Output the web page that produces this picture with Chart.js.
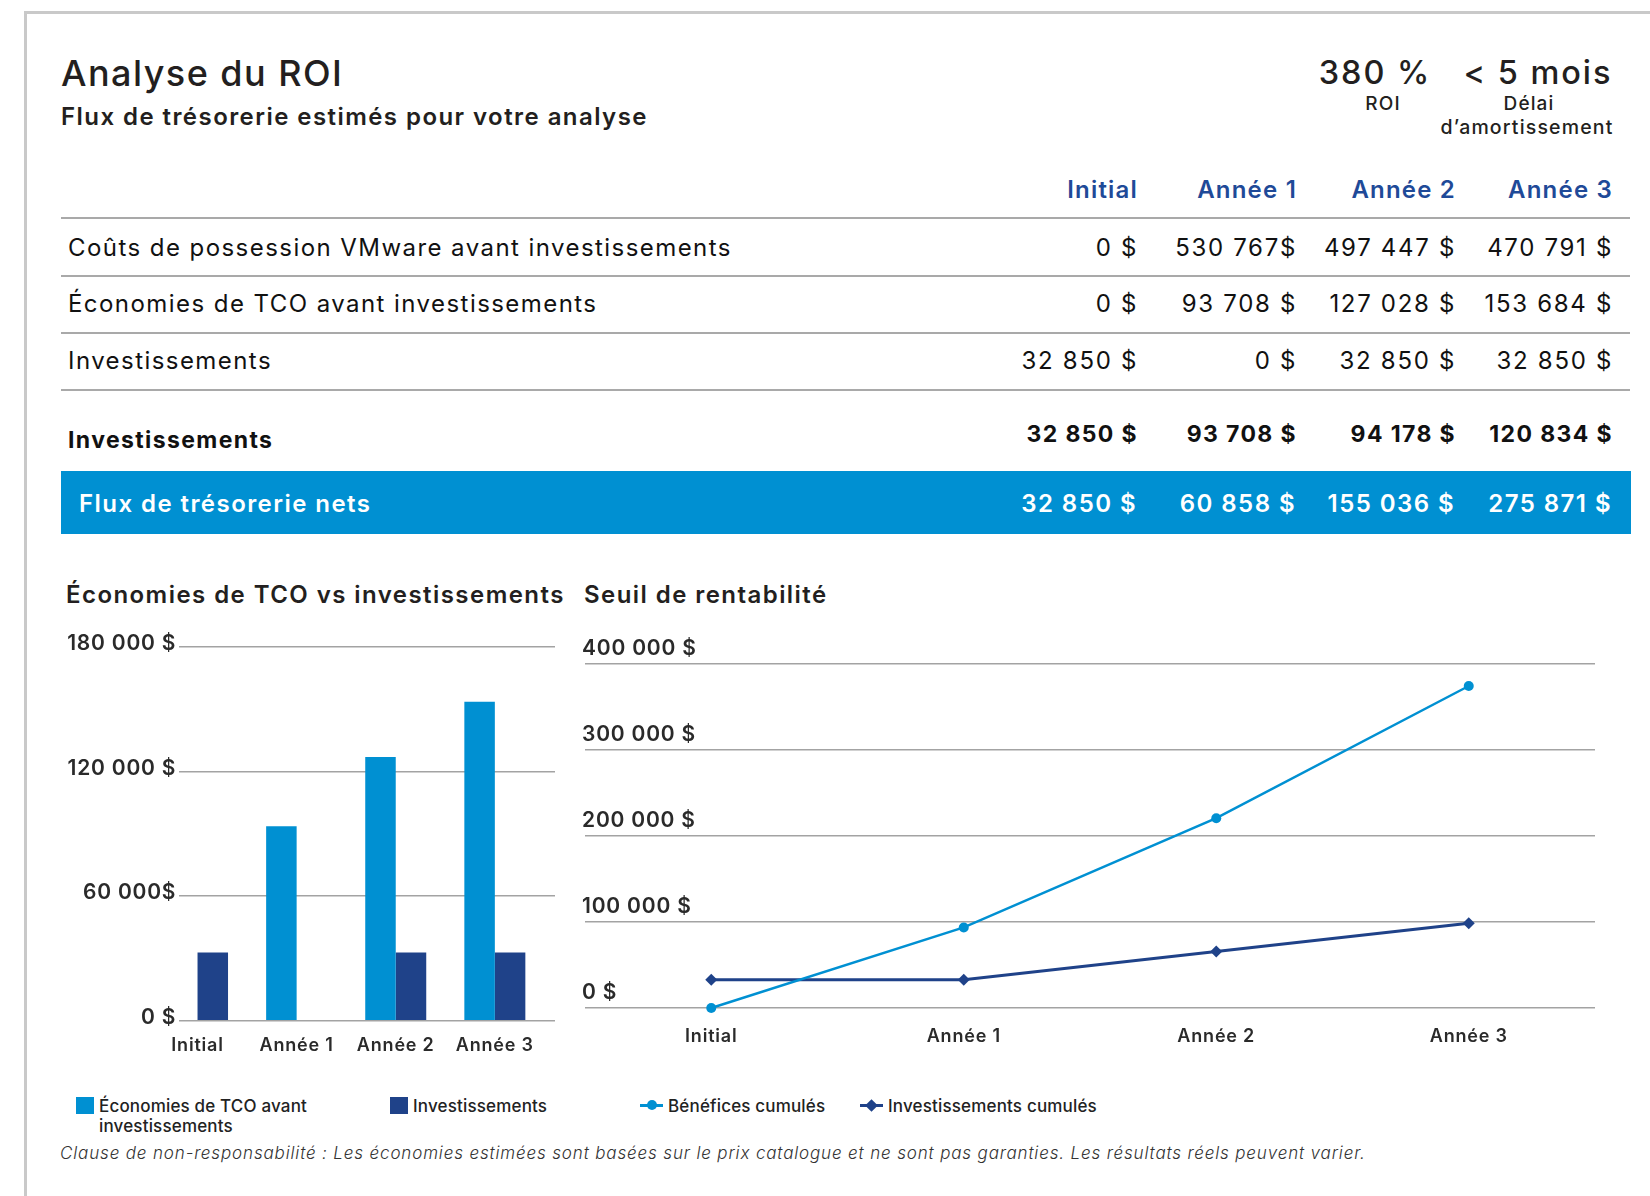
<!DOCTYPE html>
<html lang="fr">
<head>
<meta charset="utf-8">
<title>Analyse du ROI</title>
<script src="https://cdn.jsdelivr.net/npm/chart.js@4.4.1/dist/chart.umd.min.js"></script>
<style>
  html, body { margin: 0; padding: 0; background: #fff; }
  body { width: 1650px; height: 1196px; position: relative; overflow: hidden; font-family: Inter, "Open Sans", sans-serif; color: #222; }
  .t { position: absolute; line-height: 1; white-space: nowrap; letter-spacing: 0.06em; }
  .frame-top { position: absolute; left: 24px; top: 11px; right: 0; height: 3px; background: #c9c9c9; }
  .frame-left { position: absolute; left: 24px; top: 11px; width: 3px; bottom: 0; background: #c9c9c9; }
  .rule { position: absolute; left: 61px; width: 1569px; height: 2px; background: #a9a9a9; }
  .band { position: absolute; left: 61px; width: 1570px; top: 471px; height: 63px; background: #0090d2; }
  #barChart { position: absolute; left: 40px; top: 610px; }
  #lineChart { position: absolute; left: 570px; top: 610px; }
</style>
</head>
<body>
<div class="frame-top"></div>
<div class="frame-left"></div>
<div class="band"></div>
<canvas id="barChart" width="530" height="470"></canvas>
<canvas id="lineChart" width="1070" height="470"></canvas>

<script>
// ---- data ----
const categories = ["Initial", "Année 1", "Année 2", "Année 3"];

const rowLabels = [
    "Coûts de possession VMware avant investissements",
    "Économies de TCO avant investissements",
    "Investissements",
];
const coutsRow = ["0 $", "530 767$", "497 447 $", "470 791 $"];
const economiesRow = ["0 $", "93 708 $", "127 028 $", "153 684 $"];
const investRow = ["32 850 $", "0 $", "32 850 $", "32 850 $"];
const totalLabel = "Investissements";
const totalRow = ["32 850 $", "93 708 $", "94 178 $", "120 834 $"];
const netLabel = "Flux de trésorerie nets";
const netRow = ["32 850 $", "60 858 $", "155 036 $", "275 871 $"];

// bar chart
const economiesTCO = [0, 93708, 127028, 153684];
const investissements = [32850, 0, 32850, 32850];
const barTickLabels = ["0 $", "60 000$", "120 000 $", "180 000 $"];

// line chart
const beneficesCumules = [0, 93708, 220736, 374420];
const investCumules = [32850, 32850, 65700, 98550];
const lineTickLabels = ["0 $", "100 000 $", "200 000 $", "300 000 $", "400 000 $"];

// ---- colours ----
const LIGHT = "#0090d2";
const DARK = "#1f4289";
const HEAD = "#1f4a98";
const GRID = "#a3a3a3";
const INK = "#222";

// ---- html text helpers ----
const ASC = 0.863; // baseline offset of Inter in a line-height:1 box

function text(str, x, base, o) {
    const el = document.createElement("div");
    el.className = "t";
    el.textContent = str;
    el.style.fontSize = o.size + "px";
    el.style.fontWeight = o.weight || 400;
    el.style.color = o.color || INK;
    if (o.italic) el.style.fontStyle = "italic";
    if (o.ls !== undefined) el.style.letterSpacing = o.ls;
    el.style.top = (base - ASC * o.size) + "px";
    if (o.align === "right") {
        el.style.left = (x - 600) + "px";
        el.style.width = "600px";
        el.style.textAlign = "right";
        el.style.marginRight = "-0.06em";
    } else if (o.align === "center") {
        el.style.left = (x - 300) + "px";
        el.style.width = "600px";
        el.style.textAlign = "center";
    } else {
        el.style.left = x + "px";
    }
    document.body.appendChild(el);
    return el;
}

function rule(y) {
    const el = document.createElement("div");
    el.className = "rule";
    el.style.top = (y - 1) + "px";
    document.body.appendChild(el);
}

// header
text("Analyse du ROI", 61, 86.5, { size: 36, weight: 500, color: "#231f20", ls: "0.04em" });
text("Flux de trésorerie estimés pour votre analyse", 61, 125.5, { size: 24, weight: 600, color: "#231f20" });

text("380 %", 1375, 85.5, { size: 32.5, weight: 500, align: "center", color: "#231f20" });
text("< 5 mois", 1538, 85.5, { size: 32.5, weight: 500, align: "center", color: "#231f20" });
text("ROI", 1383, 110, { size: 19, weight: 500, align: "center", color: "#231f20" });
text("Délai", 1529, 110, { size: 19, weight: 500, align: "center", color: "#231f20" });
text("d’amortissement", 1527, 134.5, { size: 19.5, weight: 500, align: "center", color: "#231f20" });

// table
const colRight = [1138, 1297, 1456, 1613];
categories.forEach((c, i) => text(c, colRight[i], 198.3, { size: 24, weight: 600, color: HEAD, align: "right", ls: "0.05em" }));

[218, 276, 333, 390].forEach(rule);

const rowBase = [256.5, 313, 370];
[coutsRow, economiesRow, investRow].forEach((row, r) => {
    text(rowLabels[r], 68, rowBase[r], { size: 24, weight: 400, color: "#111" });
    row.forEach((v, i) => text(v, colRight[i], rowBase[r], { size: 24, weight: 400, color: "#111", align: "right", ls: "0.07em" }));
});

text(totalLabel, 68, 449, { size: 23, weight: 700, color: "#111" });
totalRow.forEach((v, i) => text(v, colRight[i], 443.3, { size: 23, weight: 700, color: "#111", align: "right" }));

text(netLabel, 79, 512.7, { size: 24, weight: 600, color: "#fff" });
netRow.forEach((v, i) => text(v, colRight[i] - 1, 512.7, { size: 24, weight: 600, color: "#fff", align: "right" }));

// chart titles
text("Économies de TCO vs investissements", 66, 604, { size: 24, weight: 600, color: "#231f20" });
text("Seuil de rentabilité", 584, 604, { size: 24, weight: 600, color: "#231f20" });

// disclaimer
text("Clause de non-responsabilité : Les économies estimées sont basées sur le prix catalogue et ne sont pas garanties. Les résultats réels peuvent varier.",
    60, 1159.5, { size: 17, weight: 300, italic: true, color: "#333", ls: "0.05em" });

// ---- charts ----
Chart.defaults.font.family = "Inter, 'Open Sans', sans-serif";
Chart.defaults.color = INK;

const spacing = {
    id: "spacing",
    beforeUpdate(chart) { chart.ctx.letterSpacing = "0.8px"; },
    beforeDraw(chart) { chart.ctx.letterSpacing = "0.8px"; },
};

const barChart = new Chart(document.getElementById("barChart"), {
    type: "bar",
    data: {
        datasets: [
            {
                label: "Économies de TCO avant investissements",
                data: economiesTCO.map((v, i) => ({ x: i, y: v })),
                backgroundColor: LIGHT,
                barThickness: 30.5,
                inflateAmount: 0,
            },
            {
                label: "Investissements",
                data: investissements.map((v, i) => ({ x: i, y: v })),
                backgroundColor: DARK,
                barThickness: 30.5,
                inflateAmount: 0,
            },
        ],
    },
    options: {
        responsive: false,
        animation: false,
        devicePixelRatio: 1,
        layout: { padding: { top: 37, right: 15, left: 0, bottom: 0 } },
        plugins: { legend: { display: false }, tooltip: { enabled: false } },
        scales: {
            x: {
                type: "linear",
                min: -0.184,
                max: 3.607,
                offset: false,
                grid: { display: false, offset: false },
                border: { display: false },
                ticks: {
                    stepSize: 1,
                    includeBounds: false,
                    autoSkip: false,
                    maxRotation: 0,
                    padding: 6,
                    color: "#2a2a2a",
                    font: { size: 18, weight: 600 },
                    callback: (v) => categories[v] ?? "",
                },
                afterFit: (s) => { s.height = 59.3; },
            },
            y: {
                min: 0,
                max: 180000,
                grid: { color: GRID, lineWidth: 1.5, drawTicks: false },
                border: { display: false },
                ticks: {
                    stepSize: 60000,
                    padding: 3,
                    labelOffset: -3,
                    color: "#2a2a2a",
                    font: { size: 21, weight: 600 },
                    callback: (v, i) => barTickLabels[i],
                },
                afterFit: (s) => { s.width = 139.3; },
            },
        },
    },
    plugins: [spacing],
});

const lineChart = new Chart(document.getElementById("lineChart"), {
    type: "line",
    data: {
        labels: categories,
        datasets: [
            {
                label: "Bénéfices cumulés",
                data: beneficesCumules,
                borderColor: LIGHT,
                backgroundColor: LIGHT,
                borderWidth: 2.5,
                pointStyle: "circle",
                pointRadius: 5,
                pointBorderWidth: 0,
                tension: 0,
                clip: false,
            },
            {
                label: "Investissements cumulés",
                data: investCumules,
                borderColor: DARK,
                backgroundColor: DARK,
                borderWidth: 3,
                pointStyle: "rectRot",
                pointRadius: 6,
                pointBorderWidth: 0,
                tension: 0,
                clip: false,
            },
        ],
    },
    options: {
        responsive: false,
        animation: false,
        devicePixelRatio: 1,
        layout: { padding: { top: 54, right: 45, left: 15, bottom: 0 } },
        plugins: { legend: { display: false }, tooltip: { enabled: false } },
        scales: {
            x: {
                offset: true,
                grid: { display: false },
                border: { display: false },
                ticks: {
                    padding: 10,
                    maxRotation: 0,
                    color: "#2a2a2a",
                    font: { size: 18, weight: 600 },
                },
                afterFit: (s) => { s.height = 72; },
            },
            y: {
                min: 0,
                max: 400000,
                grid: { color: GRID, lineWidth: 1.5, drawTicks: false },
                border: { display: false },
                ticks: {
                    stepSize: 100000,
                    mirror: true,
                    padding: -3,
                    labelOffset: -15,
                    color: "#2a2a2a",
                    font: { size: 21, weight: 600 },
                    callback: (v, i) => lineTickLabels[i],
                },
                afterFit: (s) => { s.width = 0; },
            },
        },
    },
    plugins: [spacing],
});

// ---- legend built from the chart datasets ----
const legendX = [76, 390, 640, 860];
const legendItems = [
    ...barChart.data.datasets.map((d) => ({ ds: d, kind: "bar" })),
    ...lineChart.data.datasets.map((d) => ({ ds: d, kind: "line" })),
];

function block(x, y, w, h, color, extra) {
    const el = document.createElement("div");
    el.style.cssText = `position:absolute;left:${x}px;top:${y}px;width:${w}px;height:${h}px;background:${color};` + (extra || "");
    document.body.appendChild(el);
    return el;
}

legendItems.forEach((item, k) => {
    const x = legendX[k];
    const color = item.ds.backgroundColor;
    let tx;
    if (item.kind === "bar") {
        block(x, 1096.5, 18, 17, color);
        tx = x + 23;
    } else {
        block(x, 1104, 23, 2.5, color);
        if (item.ds.pointStyle === "rectRot") {
            block(x + 7, 1100.7, 9, 9, color, "transform:rotate(45deg);");
        } else {
            block(x + 6.5, 1100.2, 10, 10, color, "border-radius:50%;");
        }
        tx = x + 28;
    }
    const el = text(item.ds.label, tx, 1112.5, { size: 17, weight: 500, color: "#222", ls: "0.01em" });
    el.style.lineHeight = "20px";
    el.style.top = (1112.5 - 16.2) + "px";
    if (k === 0) {
        el.style.whiteSpace = "normal";
        el.style.width = "228px";
    }
});
</script>
</body>
</html>
